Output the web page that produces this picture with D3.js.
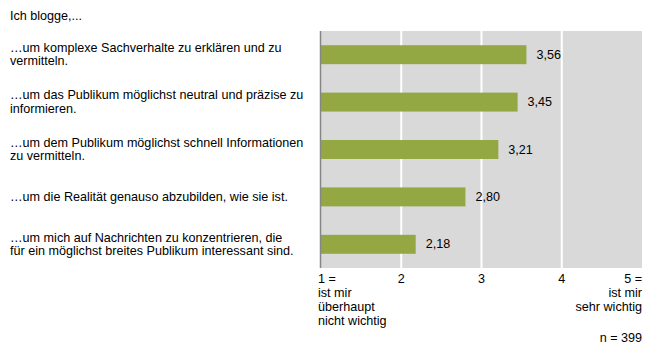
<!DOCTYPE html>
<html><head><meta charset="utf-8">
<script src="https://cdn.jsdelivr.net/npm/d3@7"></script>
<style>body{margin:0;background:#fff;} text{font-family:"Liberation Sans",Arial,sans-serif;font-size:12.6px;fill:#000;}</style>
</head><body>
<svg id="chart" width="650" height="350"></svg>
<script>
const title = "Ich blogge,...";
const categories = [
  ["…um komplexe Sachverhalte zu erklären und zu", "vermitteln."],
  ["…um das Publikum möglichst neutral und präzise zu", "informieren."],
  ["…um dem Publikum möglichst schnell Informationen", "zu vermitteln."],
  ["…um die Realität genauso abzubilden, wie sie ist."],
  ["…um mich auf Nachrichten zu konzentrieren, die", "für ein möglichst breites Publikum interessant sind."]
];
const values = [3.56, 3.45, 3.21, 2.80, 2.18];
const tickValues = [1, 2, 3, 4, 5];
const tickLabels = [["1 =", "ist mir", "überhaupt", "nicht wichtig"], ["2"], ["3"], ["4"], ["5 =", "ist mir", "sehr wichtig"]];
const note = "n = 399";

const svg = d3.select("#chart");
const pLeft = 321, pRight = 642, pTop = 31, pBottom = 268;
const x = d3.scaleLinear().domain([1, 5]).range([pLeft, pRight]);
const y = d3.scaleBand().domain(d3.range(values.length)).range([pTop, pBottom]).paddingInner(0.6).paddingOuter(0.3);

svg.append("text").attr("x", 10).attr("y", 20).text(title);

svg.append("rect").attr("x", pLeft).attr("y", pTop).attr("width", pRight - pLeft).attr("height", pBottom - pTop).attr("fill", "#d9d9d9");

svg.selectAll("line.grid").data(tickValues.slice(1, -1)).join("line")
  .attr("x1", d => x(d)).attr("x2", d => x(d)).attr("y1", pTop).attr("y2", pBottom)
  .attr("stroke", "#fff").attr("stroke-width", 2);

svg.selectAll("rect.bar").data(values).join("rect").attr("class", "bar")
  .attr("x", x(1)).attr("y", (d, i) => y(i)).attr("width", d => x(d) - x(1)).attr("height", y.bandwidth())
  .attr("fill", "#93a843");

svg.append("line").attr("x1", pLeft - 0.5).attr("x2", pLeft - 0.5).attr("y1", pTop).attr("y2", pBottom)
  .attr("stroke", "#868686").attr("stroke-width", 1.5);

const fmt = d3.format(".2f");
svg.selectAll("text.val").data(values).join("text")
  .attr("x", d => x(d) + 10).attr("y", (d, i) => y(i) + y.bandwidth() / 2 + 4)
  .text(d => fmt(d).replace(".", ","));

const lh = 13.5;
categories.forEach((lines, i) => {
  const cy = y(i) + y.bandwidth() / 2;
  const t = svg.append("text").attr("x", 10);
  lines.forEach((l, j) => {
    t.append("tspan").attr("x", 10).attr("y", cy + 4 - (lines.length - 1) * lh / 2 + j * lh).text(l);
  });
});

tickValues.forEach((v, i) => {
  const anchor = i === 0 ? "start" : (i === tickValues.length - 1 ? "end" : "middle");
  const xx = i === 0 ? x(v) - 3 : x(v);
  const t = svg.append("text").attr("text-anchor", anchor);
  tickLabels[i].forEach((l, j) => {
    t.append("tspan").attr("x", xx).attr("y", 283 + j * 14).text(l);
  });
});

svg.append("text").attr("x", pRight).attr("y", 342).attr("text-anchor", "end").text(note);
</script>
</body></html>
